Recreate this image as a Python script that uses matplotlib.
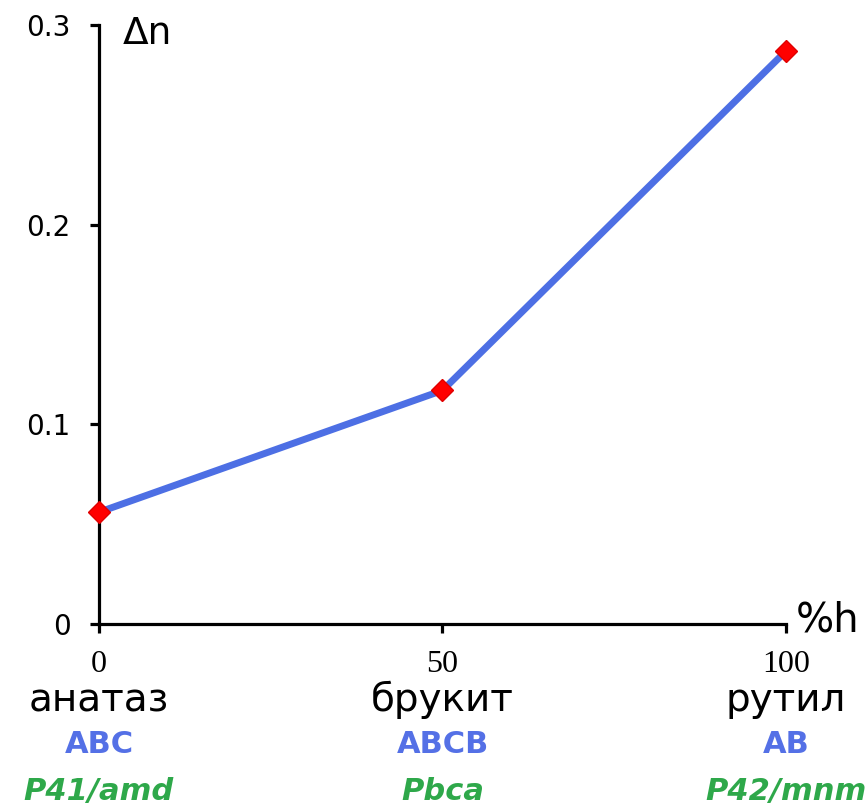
import numpy as np
from matplotlib import pyplot as plt

# data
hex_share = [0, 50, 100]
delta_n = [0.056, 0.117, 0.287]
minerals = ['анатаз', 'брукит', 'рутил']
stacking = ['ABC', 'ABCB', 'AB']
space_groups = ['P41/amd', 'Pbca', 'P42/mnm']
y_ticks = [0, 0.1, 0.2, 0.3]
y_tick_labels = ['0', '0.1', '0.2', '0.3']

line_color = '#4d6fe4'
code_color = '#5470e6'
group_color = '#2ea84a'


def main():
    plt.rcParams['font.family'] = ['DejaVu Sans']

    fig = plt.figure(figsize=(8.66, 8.08), dpi=100)
    ax = fig.add_axes([0.1143, 0.2277, 0.7933, 0.7413])

    ax.plot(hex_share, delta_n, color=line_color, linewidth=5, zorder=2,
            solid_capstyle='butt')
    ax.plot(hex_share, delta_n, linestyle='none', marker='D', markersize=11,
            color='#ff0000', markeredgecolor='#e00000', zorder=3, clip_on=False)

    ax.set_xlim(0, 100)
    ax.set_ylim(0, 0.3)

    # axes look: only left and bottom spines
    for side in ['top', 'right']:
        ax.spines[side].set_visible(False)
    for side in ['left', 'bottom']:
        ax.spines[side].set_linewidth(2.3)

    ax.set_yticks(y_ticks)
    ax.set_yticklabels(y_tick_labels, fontsize=20)
    ax.set_xticks(hex_share)
    ax.set_xticklabels([str(v) for v in hex_share], fontsize=23,
                       family='Liberation Serif')
    ax.tick_params(axis='y', direction='out', length=6.5, width=2.3, pad=14)
    ax.tick_params(axis='x', direction='out', length=6.5, width=2.3, pad=12)

    # axis names at the ends of the axes
    ax.text(0.035, 0.985, 'Δn', transform=ax.transAxes, fontsize=27,
            ha='left', va='center')
    ax.text(1.014, 0.006, '%h', transform=ax.transAxes, fontsize=29,
            ha='left', va='center')

    # labels under each phase
    trans = ax.get_xaxis_transform()
    for x, name, code, grp in zip(hex_share, minerals, stacking, space_groups):
        ax.annotate(name, xy=(x, 0), xycoords=trans, xytext=(0, -87),
                    textcoords='offset pixels', ha='center', va='baseline',
                    fontsize=28, annotation_clip=False)
        ax.annotate(code, xy=(x, 0), xycoords=trans, xytext=(0, -129),
                    textcoords='offset pixels', ha='center', va='baseline',
                    fontsize=22, fontweight='bold', color=code_color,
                    annotation_clip=False)
        ax.annotate(grp, xy=(x, 0), xycoords=trans, xytext=(0, -176),
                    textcoords='offset pixels', ha='center', va='baseline',
                    fontsize=22, fontweight='bold', style='italic',
                    color=group_color, annotation_clip=False)

    fig.savefig('out.png', dpi=100)


if __name__ == '__main__':
    main()
